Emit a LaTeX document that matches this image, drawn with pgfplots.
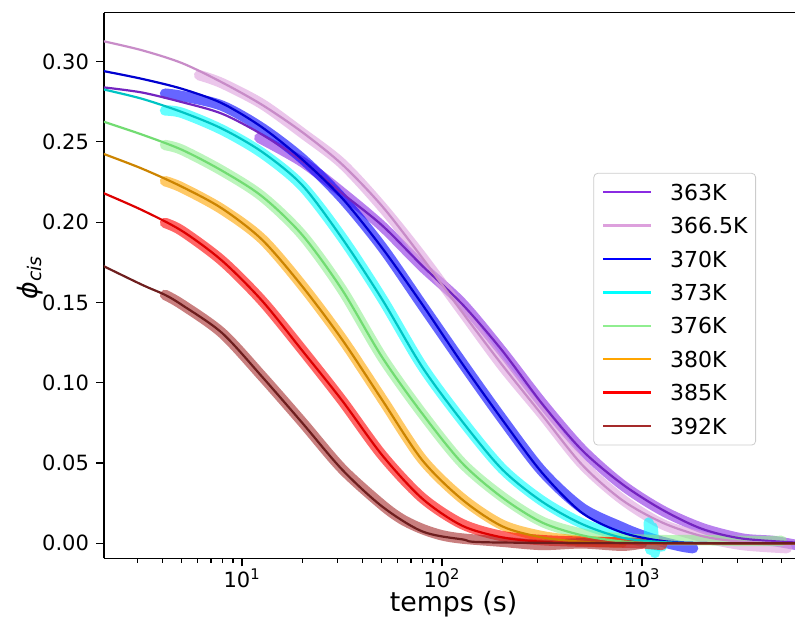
\documentclass[border=0pt]{standalone}
\usepackage{fontspec}
\setmainfont{DejaVu Sans}
\usepackage{pgfplots}
\pgfplotsset{compat=1.18}
\usetikzlibrary{calc}

\definecolor{c363}{HTML}{8A2BE2}
\definecolor{c366}{HTML}{DDA0DD}
\definecolor{c370}{HTML}{0000FF}
\definecolor{c373}{HTML}{00FFFF}
\definecolor{c376}{HTML}{90EE90}
\definecolor{c380}{HTML}{FFA500}
\definecolor{c385}{HTML}{FF0000}
\definecolor{c392}{HTML}{A52A2A}
\definecolor{f363}{HTML}{7424C0}
\definecolor{f366}{HTML}{C88CC8}
\definecolor{f370}{HTML}{0000D0}
\definecolor{f373}{HTML}{00C4C4}
\definecolor{f376}{HTML}{72DC72}
\definecolor{f380}{HTML}{CC8400}
\definecolor{f385}{HTML}{DD0000}
\definecolor{f392}{HTML}{6E1E1E}

\pgfplotsset{
  dat/.style={line width=5.2pt, opacity=0.6, line join=round, line cap=round, smooth, forget plot},
  fit/.style={line width=1.1pt, smooth, forget plot},
}

\begin{document}
\begin{tikzpicture}
\begin{axis}[name=ax, scale only axis, width=345.5pt, height=272.8pt,
  xmode=log, xmin=2.04, xmax=5820, ymin=-0.0093, ymax=0.3304,
  axis x line=box, axis y line=left, axis line style={-, line width=0.7pt},
  xtick pos=left, tick align=outside,
  major tick length=4pt, minor tick length=2.2pt,
  every tick/.style={black, line width=0.6pt},
  xtick={10,100,1000},
  xticklabels={10\textsuperscript{1},10\textsuperscript{2},10\textsuperscript{3}},
  minor xtick={3,4,5,6,7,8,9,20,30,40,50,60,70,80,90,200,300,400,500,600,700,800,900,2000,3000,4000,5000},
  ytick={0,0.05,0.1,0.15,0.2,0.25,0.3},
  scaled y ticks=false,
  yticklabel style={/pgf/number format/.cd, fixed, fixed zerofill, precision=2},
  xticklabel style={yshift=2.5pt},
  /pgf/number format/assume math mode=true,
  tick label style={font=\fontsize{10.5}{12}\selectfont},
  xlabel={temps (s)}, ylabel={\itshape ϕ\textsubscript{cis}},
  label style={font=\fontsize{13.4}{16}\selectfont},
  xlabel style={at={(axis description cs:0.5058,-0.0975)}, anchor=base, inner sep=0pt},
  ylabel style={at={(axis description cs:-0.107,0.515)}, anchor=center, inner sep=0pt},
  legend style={at={(0.9436,0.7064)}, anchor=north east, draw=black!20, rounded corners=2pt,
    fill=white, fill opacity=0.8, text opacity=1, inner xsep=4pt, inner ysep=5.5pt,
    font=\fontsize{11}{13}\selectfont,
    nodes={inner sep=0pt, text height=8pt, text depth=0pt},
    row sep=8.7pt, /tikz/every odd column/.append style={column sep=9pt}},
  legend cell align=left,
  legend image code/.code={\draw[#1] (0pt,0pt) -- (24pt,0pt);},
]
% ---------- data (thick translucent) ----------
\addplot[dat, c363] coordinates {(12.2,0.2525) (20,0.2375) (31.6,0.2185) (50.1,0.1975) (79.4,0.1725) (126,0.1495) (200,0.1195) (316,0.0875) (501,0.0585) (794,0.0365) (1259,0.0205) (1995,0.0095) (3162,0.003) (4500,0.0015) (5900,-0.001)};
\addplot[dat, c366] coordinates {(6.1,0.2915) (7.94,0.2865) (12.6,0.2735) (20,0.2555) (31.6,0.2365) (50.1,0.2095) (79.4,0.1785) (126,0.1445) (200,0.1105) (316,0.0805) (501,0.0495) (794,0.0275) (1259,0.012) (1995,0.004) (3162,-0.001) (5300,-0.003)};
\addplot[dat, c370] coordinates {(4.12,0.2800) (5.01,0.2785) (7.94,0.2725) (12.6,0.2585) (20,0.2395) (31.6,0.2150) (50.1,0.1845) (79.4,0.1485) (126,0.1125) (200,0.0775) (316,0.0450) (501,0.0220) (794,0.0100) (1000,0.005) (1259,0.001) (1585,-0.002) (1800,-0.003)};
\addplot[dat, c373] coordinates {(4.12,0.2695) (5.01,0.2680) (7.94,0.2575) (12.6,0.2430) (20,0.2225) (31.6,0.1905) (50.1,0.1525) (79.4,0.1105) (126,0.0765) (200,0.0465) (316,0.0265) (501,0.0125) (794,0.0045) (1000,0.001) (1259,-0.002)};
\addplot[dat, c373, sharp plot] coordinates {(1080,0.013) (1100,-0.004) (1130,0.010) (1160,-0.006)};
\addplot[dat, c376] coordinates {(4.12,0.2480) (5.01,0.2450) (7.94,0.2320) (12.6,0.2160) (20,0.1920) (31.6,0.1580) (50.1,0.1160) (79.4,0.0810) (126,0.0500) (200,0.0290) (316,0.0135) (501,0.0060) (794,0.0030) (1259,0.0020) (1995,0.0020) (3162,0.0015) (5000,0.0015)};
\addplot[dat, c380] coordinates {(4.12,0.2255) (5.01,0.2215) (7.94,0.2080) (12.6,0.1895) (20,0.1605) (31.6,0.1275) (50.1,0.0900) (79.4,0.0525) (126,0.0280) (200,0.0115) (316,0.0045) (501,0.0015) (794,0.0005)};
\addplot[dat, c385] coordinates {(4.12,0.1995) (5.01,0.1945) (7.94,0.1760) (12.6,0.1510) (20,0.1205) (31.6,0.0890) (50.1,0.0550) (79.4,0.0285) (126,0.0120) (200,0.0045) (316,0.002) (501,0.001) (794,0.0005) (1000,0.000) (1259,-0.001)};
\addplot[dat, c392] coordinates {(4.12,0.1547) (5.01,0.1487) (7.94,0.1310) (12.6,0.1040) (20,0.0755) (31.6,0.0465) (50.1,0.0240) (63,0.0150) (79.4,0.0090) (100,0.005) (126,0.003) (200,0.001) (316,-0.001) (501,0.000) (794,-0.0015) (1000,0.000)};
% ---------- fits ----------
\addplot[fit, f363] coordinates {(2.0,0.2840) (3.16,0.2807) (5.01,0.2747) (7.94,0.2675) (12.6,0.2545) (20,0.2380) (31.6,0.2180) (50.1,0.1980) (79.4,0.1730) (126,0.1490) (200,0.1200) (316,0.0870) (501,0.0580) (794,0.0370) (1259,0.0210) (1995,0.0090) (3162,0.0030) (5900,0.0005)};
\addplot[fit, f366] coordinates {(2.0,0.3128) (3.16,0.3070) (5.01,0.2990) (7.94,0.2870) (12.6,0.2730) (20,0.2560) (31.6,0.2360) (50.1,0.2100) (79.4,0.1780) (126,0.1440) (200,0.1110) (316,0.0800) (501,0.0490) (794,0.0270) (1259,0.0130) (1995,0.0045) (3162,0.0010) (5900,0.0000)};
\addplot[fit, f370] coordinates {(2.0,0.2942) (3.16,0.2892) (5.01,0.2830) (7.94,0.2740) (12.6,0.2590) (20,0.2390) (31.6,0.2150) (50.1,0.1840) (79.4,0.1490) (126,0.1120) (200,0.0770) (316,0.0440) (501,0.0190) (794,0.0068) (1259,0.0015) (1995,0.0002) (5900,0)};
\addplot[fit, f373] coordinates {(2.0,0.2828) (3.16,0.2768) (5.01,0.2685) (7.94,0.2582) (12.6,0.2437) (20,0.2230) (31.6,0.1900) (50.1,0.1520) (79.4,0.1100) (126,0.0760) (200,0.0460) (316,0.0260) (501,0.0120) (794,0.0035) (1259,0.0008) (1995,0.0001) (5900,0)};
\addplot[fit, f376] coordinates {(2.0,0.2628) (3.16,0.2545) (5.01,0.2450) (7.94,0.2320) (12.6,0.2160) (20,0.1920) (31.6,0.1580) (50.1,0.1160) (79.4,0.0810) (126,0.0500) (200,0.0285) (316,0.0130) (501,0.0050) (794,0.0012) (1259,0.0002) (5900,0)};
\addplot[fit, f380] coordinates {(2.0,0.2428) (3.16,0.2333) (5.01,0.2220) (7.94,0.2085) (12.6,0.1890) (20,0.1600) (31.6,0.1270) (50.1,0.0894) (79.4,0.0520) (126,0.0273) (200,0.0106) (316,0.0037) (501,0.0010) (794,0.0002) (5900,0)};
\addplot[fit, f385] coordinates {(2.0,0.2184) (3.16,0.2075) (5.01,0.1945) (7.94,0.1760) (12.6,0.1510) (20,0.1200) (31.6,0.0890) (50.1,0.0550) (79.4,0.0280) (126,0.0110) (200,0.0037) (316,0.0010) (501,0.0002) (5900,0)};
\addplot[fit, f392] coordinates {(2.0,0.1730) (3.16,0.1610) (4.12,0.1547) (5.01,0.1484) (7.94,0.1310) (12.6,0.1037) (20,0.0750) (31.6,0.0460) (50.1,0.0230) (79.4,0.0075) (126,0.0025) (200,0.0005) (5900,0)};
% ---------- legend ----------
\addlegendimage{c363, line width=1.2pt}\addlegendentry{363K}
\addlegendimage{c366, line width=1.2pt}\addlegendentry{366.5K}
\addlegendimage{c370, line width=1.2pt}\addlegendentry{370K}
\addlegendimage{c373, line width=1.2pt}\addlegendentry{373K}
\addlegendimage{c376, line width=1.2pt}\addlegendentry{376K}
\addlegendimage{c380, line width=1.2pt}\addlegendentry{380K}
\addlegendimage{c385, line width=1.2pt}\addlegendentry{385K}
\addlegendimage{c392, line width=1.2pt}\addlegendentry{392K}
\end{axis}
\pgfresetboundingbox
\path ($(ax.south west)+(-52pt,-33pt)$) rectangle ($(ax.north east)+(0pt,6.35pt)$);
\end{tikzpicture}
\end{document}
